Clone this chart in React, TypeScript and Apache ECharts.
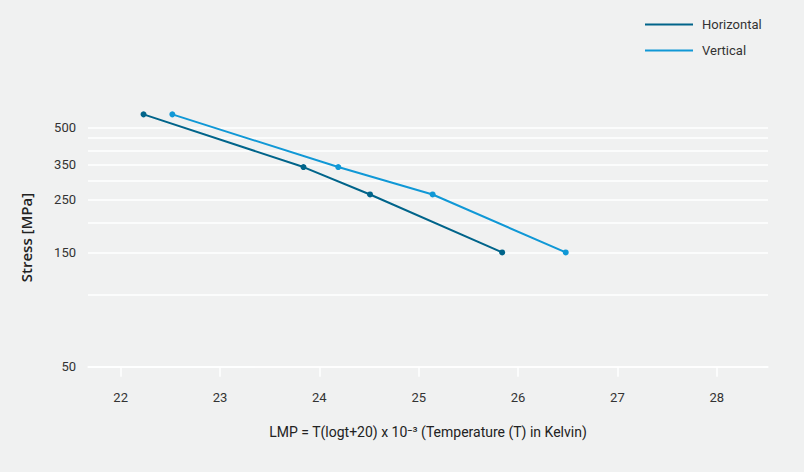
import React, { useEffect, useRef } from "react";
import * as echarts from "echarts";

const seriesNames = ["Horizontal", "Vertical"];
const horizontalData: [number, number][] = [
  [22.23, 566],
  [23.84, 341],
  [24.51, 262],
  [25.84, 150],
];
const verticalData: [number, number][] = [
  [22.52, 566],
  [24.19, 341],
  [25.14, 262],
  [26.48, 150],
];
const xTicks = [22, 23, 24, 25, 26, 27, 28];
const yGridValues = [50, 100, 150, 200, 250, 300, 350, 400, 450, 500];
const yLabelValues = [50, 150, 250, 350, 500];

const FONT = "Roboto, sans-serif";

export default function App() {
  const ref = useRef<HTMLDivElement>(null);
  useEffect(() => {
    if (!ref.current) return;
    const chart = echarts.init(ref.current, undefined, { renderer: "svg" });
    chart.setOption({
      animation: false,
      backgroundColor: "#f0f1f1",
      textStyle: { fontFamily: FONT },
      legend: {
        orient: "vertical",
        left: 640,
        top: 13,
        icon: "rect",
        itemWidth: 48,
        itemHeight: 2,
        itemGap: 13,
        textStyle: { fontSize: 13, color: "#333", fontFamily: FONT, padding: [0, 0, 0, 4] },
        data: seriesNames,
      },
      grid: {
        left: 88,
        right: 36,
        top: 108.3,
        bottom: 105.3,
        outerBoundsMode: "none",
      },
      xAxis: {
        type: "value",
        min: 21.671,
        max: 28.516,
        name: "LMP = T(logt+20) x 10⁻³ (Temperature (T) in Kelvin)",
        nameLocation: "middle",
        nameGap: 58,
        nameTextStyle: { fontSize: 14, color: "#222", fontFamily: FONT },
        axisLine: { show: true, lineStyle: { color: "#ffffff", width: 1.5 } },
        axisTick: {
          show: true,
          length: 10,
          customValues: xTicks,
          lineStyle: { color: "#ffffff", width: 1.5 },
        },
        axisLabel: {
          customValues: xTicks,
          margin: 24,
          fontSize: 13,
          color: "#333",
          fontFamily: FONT,
        },
        splitLine: { show: false },
      },
      yAxis: {
        type: "log",
        logBase: 10,
        min: 50,
        max: 600,
        name: "Stress [MPa]",
        nameLocation: "middle",
        nameGap: 55,
        nameTextStyle: { fontSize: 15, color: "#222", fontWeight: 600, fontFamily: "'Open Sans', sans-serif" },
        axisLine: { show: false },
        axisTick: { show: false, customValues: yGridValues },
        axisLabel: {
          customValues: yLabelValues,
          margin: 12,
          fontSize: 13,
          color: "#333",
          fontFamily: FONT,
        },
        splitLine: { show: true, lineStyle: { color: "#ffffff", width: 1.5 } },
      },
      series: [
        {
          name: seriesNames[0],
          type: "line",
          data: horizontalData,
          symbol: "circle",
          symbolSize: 6,
          lineStyle: { width: 2, color: "#00648a" },
          itemStyle: { color: "#00648a" },
          color: "#00648a",
        },
        {
          name: seriesNames[1],
          type: "line",
          data: verticalData,
          symbol: "circle",
          symbolSize: 6,
          lineStyle: { width: 2, color: "#1098d6" },
          itemStyle: { color: "#1098d6" },
          color: "#1098d6",
        },
      ],
    });
    return () => chart.dispose();
  }, []);
  return (
    <div
      ref={ref}
      style={{ position: "fixed", left: 0, top: 0, width: 804, height: 472 }}
    />
  );
}
